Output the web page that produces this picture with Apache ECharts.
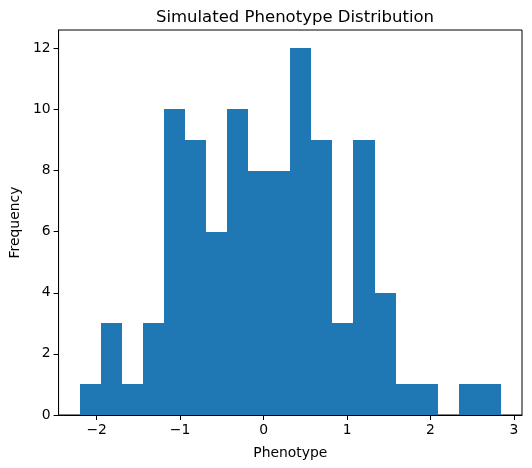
<!DOCTYPE html>
<html>
<head>
<meta charset="utf-8">
<script src="https://cdn.jsdelivr.net/npm/echarts@6/dist/echarts.min.js"></script>
<style>
  html, body { margin: 0; padding: 0; background: #fff; }
  #chart { width: 532px; height: 468px; }
</style>
</head>
<body>
<div id="chart"></div>
<script>
// histogram bin edges (20 bins) and counts
const binEdges = [-2.204, -1.952, -1.699, -1.447, -1.194, -0.942, -0.690, -0.437,
  -0.185, 0.068, 0.320, 0.572, 0.825, 1.077, 1.330, 1.582, 1.834, 2.087, 2.339, 2.592, 2.844];
const counts = [1, 3, 1, 3, 10, 9, 6, 10, 8, 8, 12, 9, 3, 9, 4, 1, 1, 0, 1, 1];
const xTicks = [-2, -1, 0, 1, 2, 3];
const yTicks = [0, 2, 4, 6, 8, 10, 12];

const FONT = "DejaVu Sans";

function renderHistogram() {
  let data = [];
  counts.forEach((c, i) => {
    data.push([binEdges[i], binEdges[i + 1], c]);
  });

  let dom = document.getElementById("chart");
  let myChart = echarts.init(dom);
  let option = {
    animation: false,
    textStyle: { fontFamily: FONT, color: "#000" },
    title: {
      text: "Simulated Phenotype Distribution",
      left: 290,
      textAlign: "center",
      top: 4,
      textStyle: { fontFamily: FONT, fontSize: 16.5, fontWeight: "normal", color: "#000" },
    },
    grid: {
      left: 57,
      right: 10,
      top: 30,
      bottom: 53,
      show: true,
      borderColor: "#000",
      borderWidth: 1,
      backgroundColor: "transparent",
    },
    xAxis: {
      type: "value",
      min: -2.456,
      max: 3.096,
      name: "Phenotype",
      nameLocation: "middle",
      nameGap: 31,
      nameTextStyle: { fontFamily: FONT, fontSize: 13.9, color: "#000" },
      axisLine: { show: true, onZero: false, lineStyle: { color: "#000", width: 1 } },
      axisTick: { show: true, length: 5, inside: false, customValues: xTicks, lineStyle: { color: "#000" } },
      axisLabel: {
        customValues: xTicks,
        fontFamily: FONT,
        fontSize: 13.9,
        color: "#000",
        margin: 8,
        formatter: (v) => String(v).replace("-", "\u2212"),
      },
      splitLine: { show: false },
    },
    yAxis: {
      type: "value",
      min: 0,
      max: 12.6,
      name: "Frequency",
      nameLocation: "middle",
      nameGap: 35,
      nameTextStyle: { fontFamily: FONT, fontSize: 13.9, color: "#000" },
      axisLine: { show: true, onZero: false, lineStyle: { color: "#000", width: 1 } },
      axisTick: { show: true, length: 5, inside: false, customValues: yTicks, lineStyle: { color: "#000" } },
      axisLabel: {
        customValues: yTicks,
        fontFamily: FONT,
        fontSize: 13.9,
        color: "#000",
        margin: 8,
      },
      splitLine: { show: false },
    },
    series: [
      {
        type: "custom",
        renderItem: function (params, api) {
          let p0 = api.coord([api.value(0), api.value(2)]);
          let p1 = api.coord([api.value(1), 0]);
          let x0 = Math.round(p0[0]);
          let x1 = Math.round(p1[0]);
          let y0 = Math.round(p0[1]);
          let y1 = Math.round(p1[1]);
          return {
            type: "rect",
            shape: { x: x0, y: y0, width: x1 - x0, height: y1 - y0 },
            style: { fill: "#1f77b4" },
          };
        },
        encode: { x: [0, 1], y: 2 },
        data: data,
      },
    ],
  };

  if (option && typeof option === "object") {
    myChart.setOption(option);
  }
}

renderHistogram();
</script>
</body>
</html>
